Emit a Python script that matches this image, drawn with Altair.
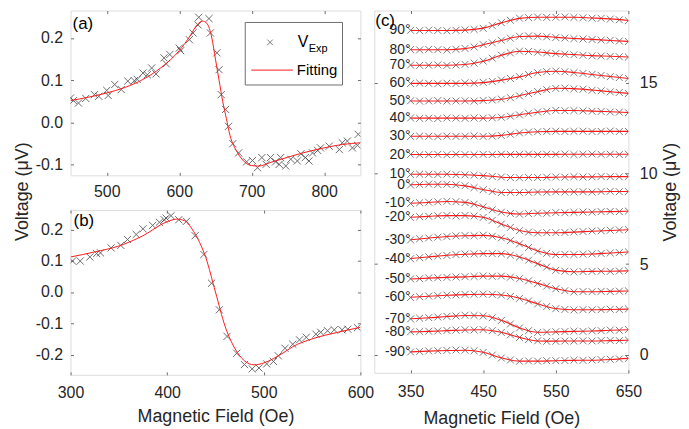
import altair as alt
import pandas as pd

FONT = "Liberation Sans"
AX = "#262626"
FRAME = "#6e6e6e"
RED = "#ff1a1a"
MK = "#2e2e2e"
CROSS = "M-1,-1L1,1M-1,1L1,-1"

a_exp_x = [450, 454, 461, 471, 483, 489, 500, 502, 511, 520, 529, 538, 542, 550, 556, 562, 568, 579, 582, 587,
           600, 602, 614, 619, 626, 627, 641, 643, 652, 655, 658, 664, 668, 674, 682, 693, 701, 708, 714, 720,
           726, 733, 738, 740, 747, 754, 763, 768, 774, 779, 784, 791, 795, 807, 821, 825, 832, 839, 846, 847]
a_exp_y = [0.058, 0.052, 0.046, 0.057, 0.066, 0.062, 0.076, 0.064, 0.090, 0.078, 0.098, 0.099, 0.102, 0.117,
           0.113, 0.129, 0.115, 0.153, 0.139, 0.161, 0.176, 0.170, 0.196, 0.212, 0.231, 0.249, 0.246, 0.212,
           0.165, 0.125, 0.066, 0.031, -0.009, -0.050, -0.072, -0.093, -0.090, -0.107, -0.083, -0.099, -0.083,
           -0.093, -0.099, -0.083, -0.103, -0.087, -0.091, -0.074, -0.083, -0.091, -0.072, -0.066, -0.060,
           -0.056, -0.064, -0.048, -0.044, -0.060, -0.054, -0.028]
a_fit_x = [450, 475, 500, 525, 550, 575, 600, 615, 625, 632, 638, 645, 650, 655, 660, 665, 670, 680, 690, 700,
           710, 725, 750, 775, 800, 825, 850]
a_fit_y = [0.052, 0.060, 0.070, 0.083, 0.102, 0.130, 0.170, 0.205, 0.232, 0.240, 0.235, 0.200, 0.150, 0.100,
           0.050, 0.010, -0.030, -0.070, -0.093, -0.102, -0.103, -0.095, -0.082, -0.070, -0.060, -0.052, -0.048]

b_exp_x = [302, 310, 320, 327, 331, 342, 352, 359, 368, 375, 385, 392, 397, 399, 404, 412, 420, 429, 438, 446,
           454, 462, 472, 480, 488, 495, 503, 510, 515, 522, 530, 537, 544, 554, 559, 566, 573, 581, 587, 597]
b_exp_y = [0.099, 0.099, 0.112, 0.123, 0.125, 0.141, 0.149, 0.168, 0.184, 0.202, 0.213, 0.223, 0.231, 0.236,
           0.244, 0.231, 0.226, 0.180, 0.120, 0.028, -0.057, -0.142, -0.196, -0.232, -0.246, -0.243, -0.230,
           -0.222, -0.204, -0.180, -0.167, -0.153, -0.145, -0.135, -0.129, -0.124, -0.121, -0.121, -0.119, -0.114]
b_fit_x = [300, 325, 350, 375, 400, 410, 418, 425, 430, 440, 450, 460, 470, 480, 490, 500, 510, 520, 530, 550,
           575, 600]
b_fit_y = [0.112, 0.128, 0.147, 0.180, 0.225, 0.233, 0.228, 0.205, 0.180, 0.110, 0.000, -0.110, -0.180, -0.220,
           -0.233, -0.227, -0.213, -0.195, -0.175, -0.150, -0.130, -0.113]

c_angles = [90, 80, 70, 60, 50, 40, 30, 20, 10, 0, -10, -20, -30, -40, -50, -60, -70, -80, -90]
c_fit_x = [350, 375, 400, 425, 450, 475, 500, 525, 550, 575, 600, 625, 650]
c_fit = {
    90: [17.90, 17.90, 17.90, 17.92, 18.03, 18.32, 18.57, 18.63, 18.63, 18.63, 18.59, 18.54, 18.45],
    80: [16.84, 16.84, 16.84, 16.90, 17.11, 17.35, 17.57, 17.59, 17.52, 17.46, 17.41, 17.35, 17.30],
    70: [15.98, 15.98, 15.98, 16.02, 16.20, 16.53, 16.75, 16.71, 16.62, 16.57, 16.51, 16.48, 16.44],
    60: [14.98, 14.98, 14.98, 14.98, 15.02, 15.16, 15.34, 15.58, 15.65, 15.58, 15.47, 15.36, 15.25],
    50: [14.01, 14.01, 14.01, 14.01, 14.03, 14.10, 14.30, 14.52, 14.71, 14.69, 14.61, 14.52, 14.43],
    40: [13.06, 13.06, 13.06, 13.06, 13.06, 13.10, 13.25, 13.39, 13.48, 13.48, 13.45, 13.41, 13.37],
    30: [12.06, 12.06, 12.06, 12.06, 12.06, 12.11, 12.24, 12.31, 12.33, 12.33, 12.33, 12.33, 12.33],
    20: [11.05, 11.05, 11.05, 11.05, 11.05, 11.06, 11.06, 11.06, 11.06, 11.07, 11.07, 11.07, 11.07],
    10: [9.96, 9.96, 9.96, 9.94, 9.89, 9.80, 9.78, 9.78, 9.80, 9.82, 9.82, 9.83, 9.83],
    0: [9.38, 9.41, 9.41, 9.32, 9.12, 8.96, 8.96, 8.98, 8.99, 8.99, 8.99, 9.01, 9.01],
    -10: [8.36, 8.41, 8.46, 8.41, 8.17, 7.88, 7.77, 7.81, 7.84, 7.86, 7.88, 7.90, 7.92],
    -20: [7.59, 7.64, 7.68, 7.68, 7.59, 7.22, 6.86, 6.73, 6.73, 6.77, 6.82, 6.86, 6.90],
    -30: [6.35, 6.44, 6.53, 6.57, 6.59, 6.46, 6.13, 5.73, 5.53, 5.53, 5.56, 5.62, 5.67],
    -40: [5.31, 5.40, 5.49, 5.55, 5.58, 5.58, 5.40, 5.03, 4.67, 4.58, 4.60, 4.61, 4.63],
    -50: [4.18, 4.23, 4.27, 4.30, 4.34, 4.34, 4.21, 3.94, 3.65, 3.48, 3.48, 3.50, 3.52],
    -60: [3.17, 3.23, 3.28, 3.32, 3.34, 3.30, 3.12, 2.81, 2.55, 2.48, 2.48, 2.50, 2.52],
    -70: [1.99, 2.04, 2.11, 2.17, 2.15, 1.90, 1.48, 1.24, 1.26, 1.29, 1.31, 1.35, 1.38],
    -80: [1.26, 1.29, 1.33, 1.37, 1.38, 1.24, 0.96, 0.76, 0.75, 0.76, 0.76, 0.78, 0.80],
    -90: [0.16, 0.20, 0.23, 0.25, 0.14, -0.17, -0.35, -0.35, -0.33, -0.31, -0.30, -0.26, -0.20],
}
c_exp_x = [350, 362.5, 375, 387.5, 400, 412.5, 425, 437.5, 450, 462.5, 475, 487.5, 500, 512.5, 525, 537.5,
           550, 562.5, 575, 587.5, 600, 612.5, 625, 637.5, 650]
c_exp = {
    90: [17.91, 17.89, 17.92, 17.90, 17.88, 17.91, 17.93, 17.96, 18.02, 18.17, 18.33, 18.46, 18.58, 18.61, 18.64,
         18.62, 18.63, 18.65, 18.62, 18.60, 18.58, 18.57, 18.53, 18.49, 18.44],
    80: [16.85, 16.83, 16.86, 16.84, 16.82, 16.86, 16.91, 16.99, 17.12, 17.22, 17.36, 17.47, 17.58, 17.60, 17.58,
         17.55, 17.51, 17.48, 17.45, 17.43, 17.40, 17.37, 17.36, 17.32, 17.29],
    70: [15.99, 15.97, 15.98, 16.00, 15.97, 15.99, 16.03, 16.10, 16.21, 16.37, 16.54, 16.66, 16.76, 16.74, 16.70,
         16.66, 16.63, 16.59, 16.56, 16.53, 16.50, 16.49, 16.47, 16.45, 16.43],
    60: [14.97, 15.00, 14.98, 14.96, 14.99, 14.97, 15.01, 14.99, 15.04, 15.09, 15.17, 15.25, 15.35, 15.47, 15.57,
         15.63, 15.66, 15.62, 15.57, 15.53, 15.48, 15.42, 15.35, 15.30, 15.26],
    50: [14.02, 14.00, 14.01, 14.03, 14.00, 14.01, 14.02, 14.00, 14.04, 14.06, 14.11, 14.19, 14.29, 14.42, 14.53,
         14.63, 14.70, 14.72, 14.68, 14.66, 14.60, 14.57, 14.51, 14.48, 14.42],
    40: [13.07, 13.05, 13.06, 13.04, 13.07, 13.06, 13.05, 13.07, 13.06, 13.08, 13.11, 13.17, 13.24, 13.33, 13.40,
         13.44, 13.49, 13.47, 13.48, 13.46, 13.44, 13.43, 13.40, 13.39, 13.36],
    30: [12.05, 12.07, 12.06, 12.04, 12.07, 12.05, 12.06, 12.08, 12.05, 12.07, 12.10, 12.17, 12.25, 12.29, 12.31,
         12.33, 12.34, 12.32, 12.33, 12.34, 12.32, 12.33, 12.35, 12.32, 12.33],
    20: [11.06, 11.04, 11.05, 11.06, 11.04, 11.07, 11.05, 11.04, 11.06, 11.05, 11.07, 11.05, 11.06, 11.08, 11.05,
         11.07, 11.06, 11.08, 11.05, 11.07, 11.08, 11.06, 11.07, 11.05, 11.07],
    10: [9.95, 9.97, 9.96, 9.95, 9.97, 9.94, 9.93, 9.91, 9.88, 9.84, 9.81, 9.78, 9.77, 9.79, 9.78, 9.80, 9.81,
         9.80, 9.83, 9.81, 9.82, 9.84, 9.83, 9.82, 9.84],
    0: [9.37, 9.40, 9.42, 9.40, 9.41, 9.38, 9.33, 9.23, 9.11, 9.01, 8.95, 8.97, 8.95, 8.97, 8.98, 8.97, 9.00,
        8.98, 8.99, 9.00, 8.98, 9.01, 9.02, 9.00, 9.01],
    -10: [8.35, 8.39, 8.42, 8.44, 8.47, 8.45, 8.40, 8.31, 8.16, 8.00, 7.87, 7.80, 7.76, 7.79, 7.82, 7.81, 7.85,
          7.84, 7.86, 7.88, 7.87, 7.90, 7.91, 7.90, 7.93],
    -20: [7.58, 7.62, 7.64, 7.67, 7.69, 7.66, 7.69, 7.66, 7.58, 7.42, 7.21, 7.03, 6.85, 6.77, 6.72, 6.74, 6.74,
          6.75, 6.78, 6.80, 6.83, 6.84, 6.87, 6.89, 6.91],
    -30: [6.34, 6.40, 6.45, 6.49, 6.52, 6.56, 6.58, 6.57, 6.60, 6.54, 6.45, 6.30, 6.12, 5.92, 5.72, 5.60, 5.52,
          5.54, 5.53, 5.55, 5.57, 5.59, 5.62, 5.64, 5.68],
    -40: [5.30, 5.36, 5.41, 5.45, 5.48, 5.53, 5.56, 5.57, 5.59, 5.58, 5.57, 5.50, 5.39, 5.22, 5.02, 4.84, 4.66,
          4.61, 4.57, 4.59, 4.60, 4.61, 4.60, 4.62, 4.64],
    -50: [4.19, 4.20, 4.24, 4.25, 4.27, 4.29, 4.31, 4.32, 4.35, 4.33, 4.34, 4.28, 4.20, 4.08, 3.93, 3.79, 3.64,
          3.54, 3.47, 3.49, 3.48, 3.50, 3.49, 3.51, 3.53],
    -60: [3.16, 3.20, 3.24, 3.26, 3.29, 3.30, 3.33, 3.34, 3.35, 3.33, 3.29, 3.22, 3.11, 2.97, 2.80, 2.66, 2.54,
          2.50, 2.47, 2.49, 2.48, 2.49, 2.51, 2.50, 2.53],
    -70: [1.98, 2.02, 2.05, 2.08, 2.12, 2.14, 2.18, 2.17, 2.14, 2.04, 1.89, 1.70, 1.48, 1.33, 1.23, 1.25, 1.27,
          1.28, 1.30, 1.29, 1.32, 1.33, 1.36, 1.35, 1.39],
    -80: [1.27, 1.28, 1.30, 1.31, 1.34, 1.36, 1.38, 1.37, 1.39, 1.33, 1.23, 1.10, 0.95, 0.84, 0.77, 0.74, 0.74,
          0.76, 0.75, 0.77, 0.76, 0.78, 0.79, 0.78, 0.81],
    -90: [0.15, 0.18, 0.21, 0.22, 0.24, 0.26, 0.25, 0.22, 0.13, -0.02, -0.18, -0.29, -0.36, -0.34, -0.35, -0.33,
          -0.33, -0.32, -0.30, -0.31, -0.29, -0.27, -0.25, -0.23, -0.20],
}

a_exp = pd.DataFrame({"x": a_exp_x, "y": a_exp_y})
a_fit = pd.DataFrame({"x": a_fit_x, "y": a_fit_y})
b_exp = pd.DataFrame({"x": b_exp_x, "y": b_exp_y})
b_fit = pd.DataFrame({"x": b_fit_x, "y": b_fit_y})
c_fit_df = pd.DataFrame([{"angle": a, "x": x, "y": y} for a in c_angles for x, y in zip(c_fit_x, c_fit[a])])
c_exp_df = pd.DataFrame([{"angle": a, "x": x, "y": y} for a in c_angles for x, y in zip(c_exp_x, c_exp[a])])
c_lab = pd.DataFrame({"x": [c_fit_x[0]] * len(c_angles),
                      "y": [c_fit[a][0] for a in c_angles],
                      "label": [f"{a}°" for a in c_angles]})
one = pd.DataFrame({"k": [0]})


def axis(orient, values, labels=True, title=None, lp=8, tp=6, title_angle=None, title_baseline=None):
    kw = dict(orient=orient, values=values, domain=False, grid=False, ticks=True, tickSize=3, offset=-3,
              tickColor=FRAME, tickWidth=1, labelFlush=False, labelOverlap=False,
              labelFont=FONT, labelFontSize=16, labelColor=AX, labelPadding=lp,
              titleFont=FONT, titleFontSize=18, titleColor=AX, titleFontWeight="normal", titlePadding=tp,
              title=title)
    if labels:
        kw["labelExpr"] = "replace(datum.label, '\u2212', '-')"
    else:
        kw["labels"] = False
    if title_angle is not None:
        kw["titleAngle"] = title_angle
    if title_baseline is not None:
        kw["titleBaseline"] = title_baseline
    return alt.Axis(**kw)


def sc(dom):
    return alt.Scale(domain=dom, nice=False, zero=False)


def label(txt, x, y, size=17):
    return alt.Chart(one).mark_text(text=txt, font=FONT, fontSize=size, color="#000000", align="left",
                                    baseline="middle").encode(x=alt.value(x), y=alt.value(y))


def panel_xy(exp, fit, xdom, ydom, xaxis, yaxis, xaxis2, yaxis2, extra, w, h):
    X = alt.X("x:Q", scale=sc(xdom), axis=xaxis)
    Y = alt.Y("y:Q", scale=sc(ydom), axis=yaxis)
    pts = alt.Chart(exp).mark_point(shape=CROSS, size=52, color=MK, strokeWidth=1, filled=False,
                                    clip=True).encode(x=X, y=Y)
    ln = alt.Chart(fit).mark_line(color=RED, strokeWidth=1, interpolate="monotone", clip=True).encode(x=X, y=Y)
    inner = alt.layer(pts, ln, *extra)
    mirror = alt.Chart(exp).mark_point(opacity=0).encode(
        x=alt.X("x:Q", scale=sc(xdom), axis=xaxis2), y=alt.Y("y:Q", scale=sc(ydom), axis=yaxis2))
    return alt.layer(inner, mirror).resolve_scale(x="independent", y="independent").properties(width=w, height=h)


leg = [
    alt.Chart(one).mark_rect(fill="white", stroke=FRAME, strokeWidth=1).encode(
        x=alt.value(176), x2=alt.value(274), y=alt.value(12), y2=alt.value(75)),
    alt.Chart(one).mark_point(shape=CROSS, size=30, color=MK, strokeWidth=0.9).encode(
        x=alt.value(201), y=alt.value(32)),
    alt.Chart(one).mark_rule(color=RED, strokeWidth=1).encode(
        x=alt.value(182), x2=alt.value(224), y=alt.value(60)),
    label("V", 229, 32, 16),
    label("Exp", 240, 39, 11),
    label("Fitting", 228, 60, 15),
    label("(a)", 2, 14, 17),
]

pa = panel_xy(a_exp, a_fit, [450, 850], [-0.125, 0.265],
              axis("bottom", [500, 600, 700, 800], lp=8),
              axis("left", [-0.1, 0, 0.1, 0.2], lp=8),
              axis("top", [500, 600, 700, 800], labels=False),
              axis("right", [-0.1, 0, 0.1, 0.2], labels=False),
              leg, 292, 166)

pb = panel_xy(b_exp, b_fit, [300, 600], [-0.265, 0.262],
              axis("bottom", [300, 400, 500, 600], title="Magnetic Field (Oe)", lp=10, tp=7),
              axis("left", [-0.2, -0.1, 0, 0.1, 0.2], lp=8),
              axis("top", [300, 400, 500, 600], labels=False),
              axis("right", [-0.2, -0.1, 0, 0.1, 0.2], labels=False),
              [label("(b)", 3, 11, 17)], 292, 166)

cx = [350, 450, 550, 650]
cy = [0, 5, 10, 15]
CX = alt.X("x:Q", scale=sc([300, 650]), axis=axis("bottom", cx, title="Magnetic Field (Oe)", lp=11, tp=10))
CY = alt.Y("y:Q", scale=sc([-1, 19]), axis=axis("right", cy, title="Voltage (\u03bcV)", lp=11, tp=5,
                                                title_angle=270, title_baseline="top"))
c_pts = alt.Chart(c_exp_df).mark_point(shape=CROSS, size=48, color="#222222", strokeWidth=0.85,
                                       clip=True).encode(x=CX, y=CY, detail="angle:N")
c_ln = alt.Chart(c_fit_df).mark_line(color=RED, strokeWidth=1.1, interpolate="monotone", clip=True).encode(
    x=CX, y=CY, detail="angle:N")
c_txt = alt.Chart(c_lab).mark_text(font=FONT, fontSize=14, color=AX, align="right", baseline="middle",
                                   dx=0).encode(x=CX, y=CY, text="label:N")
c_inner = alt.layer(c_pts, c_ln, c_txt, label("(c)", 1, 11, 17))
c_mirror = alt.Chart(c_exp_df).mark_point(opacity=0).encode(
    x=alt.X("x:Q", scale=sc([300, 650]), axis=axis("top", cx, labels=False)),
    y=alt.Y("y:Q", scale=sc([-1, 19]), axis=axis("left", cy, labels=False)))
pc = alt.layer(c_inner, c_mirror).resolve_scale(x="independent", y="independent").properties(width=256,
                                                                                              height=365)

ytitle = alt.Chart(one).mark_text(text="Voltage (\u03bcV)", font=FONT, fontSize=18, color=AX, angle=270,
                                  align="center", baseline="middle").encode(
    x=alt.value(7), y=alt.value(182.5)).properties(width=16, height=365,
                                                   view=alt.ViewBackground(stroke="transparent"))

left = alt.vconcat(pa, pb, spacing=9)
right = alt.hconcat(left, pc, spacing=-3)
chart = alt.hconcat(ytitle, right, spacing=1).properties(
    padding={"left": 5, "top": 0, "right": 0, "bottom": 0}
).configure_view(stroke=FRAME, strokeWidth=1).configure(background="white")

chart.save("out.html", embed_options={"renderer": "svg", "actions": False})
